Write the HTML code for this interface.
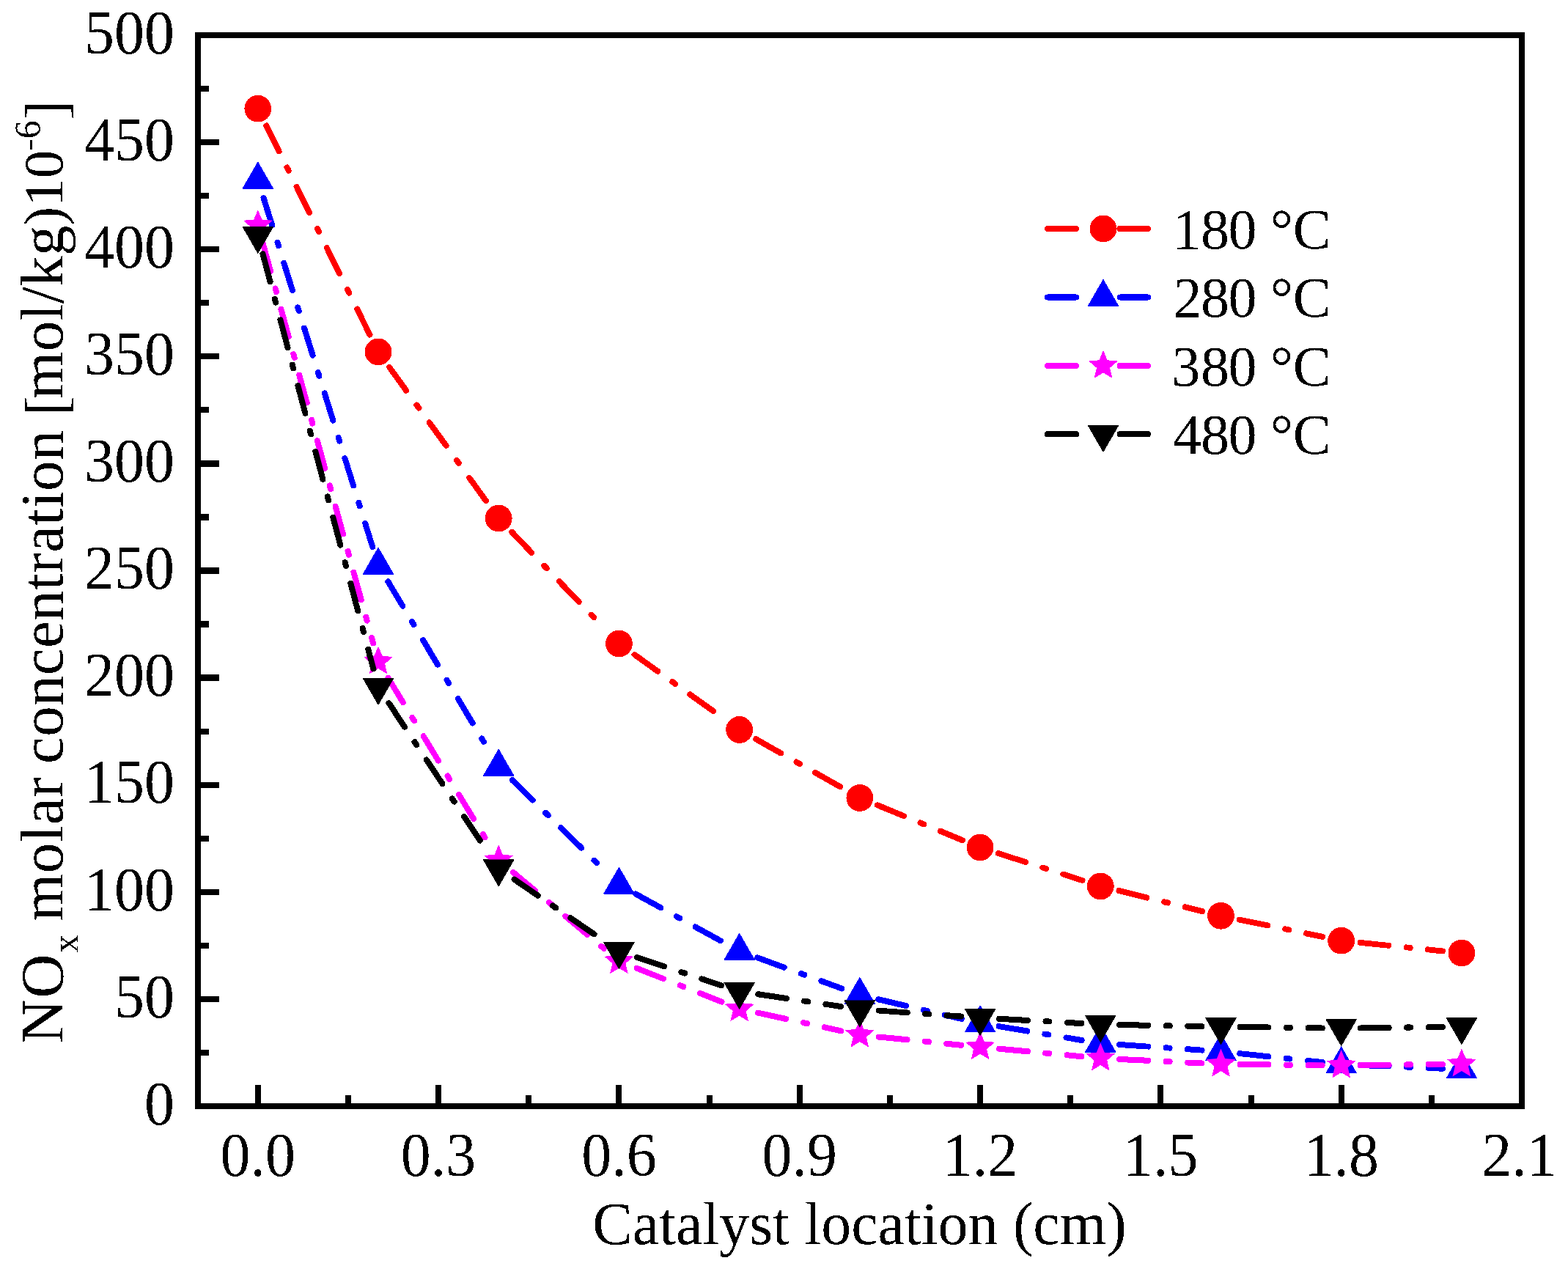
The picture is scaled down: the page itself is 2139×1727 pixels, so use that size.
<!DOCTYPE html>
<html><head><meta charset="utf-8"><title>NOx concentration vs catalyst location</title>
<style>
html,body{margin:0;padding:0;background:#fff;}
svg{display:block;}
text{font-family:"Liberation Serif","Times New Roman",serif;fill:#000;}
</style></head><body>
<svg width="2139" height="1727" viewBox="0 0 2139 1727">
<rect width="2139" height="1727" fill="#fff"/>
<defs><filter id="crisp" x="0" y="0" width="2139" height="1727" filterUnits="userSpaceOnUse" color-interpolation-filters="sRGB"><feComponentTransfer><feFuncA type="discrete" tableValues="0 1"/></feComponentTransfer></filter></defs>
<g filter="url(#crisp)">

<g fill="none" stroke-width="8" stroke-linecap="round" stroke-dasharray="39 24.5 5 24.5"><path d="M363.34 171.5L504.47 456.6M531.24 500.97L664.99 686.03M698.23 725.85L826.41 859.25M865.58 893.12L987.49 980.28M1031.26 1008.21L1150.22 1075.59M1196.88 1098.31L1313.02 1146.19M1361.81 1164.06L1476.51 1200.94M1526.51 1215.11L1640.23 1243.09M1690.94 1254.56L1804.22 1277.94M1855.55 1285.86L1968.03 1297.44" stroke="#ff0000"/></g>
<g><circle cx="351.8" cy="148.2" r="18.4" fill="#ff0000"/><circle cx="516.01" cy="479.9" r="18.4" fill="#ff0000"/><circle cx="680.22" cy="707.1" r="18.4" fill="#ff0000"/><circle cx="844.43" cy="878" r="18.4" fill="#ff0000"/><circle cx="1008.64" cy="995.4" r="18.4" fill="#ff0000"/><circle cx="1172.85" cy="1088.4" r="18.4" fill="#ff0000"/><circle cx="1337.06" cy="1156.1" r="18.4" fill="#ff0000"/><circle cx="1501.27" cy="1208.9" r="18.4" fill="#ff0000"/><circle cx="1665.48" cy="1249.3" r="18.4" fill="#ff0000"/><circle cx="1829.69" cy="1283.2" r="18.4" fill="#ff0000"/><circle cx="1993.9" cy="1300.1" r="18.4" fill="#ff0000"/></g>
<g fill="none" stroke-width="8" stroke-linecap="round" stroke-dasharray="39 24.5 5 24.5"><path d="M359.55 270.02L508.26 746.18M529.34 793.32L666.89 1023.68M698.78 1064.2L825.86 1188.8M867.21 1219.54L985.86 1284.86M1033.06 1306.31L1148.42 1348.39M1198.16 1363.25L1311.75 1389.95M1362.71 1400.16L1475.62 1418.94M1527.21 1424.97L1639.54 1432.63M1691.33 1437.14L1803.83 1449.06M1855.66 1452.91L1967.92 1457.69" stroke="#0000ff"/></g>
<g><polygon points="351.8,220.37 373.3,257.61 330.3,257.61" fill="#0000ff"/><polygon points="516.01,746.17 537.51,783.41 494.51,783.41" fill="#0000ff"/><polygon points="680.22,1021.17 701.72,1058.41 658.72,1058.41" fill="#0000ff"/><polygon points="844.43,1182.17 865.93,1219.41 822.93,1219.41" fill="#0000ff"/><polygon points="1008.64,1272.57 1030.14,1309.81 987.14,1309.81" fill="#0000ff"/><polygon points="1172.85,1332.47 1194.35,1369.71 1151.35,1369.71" fill="#0000ff"/><polygon points="1337.06,1371.07 1358.56,1408.31 1315.56,1408.31" fill="#0000ff"/><polygon points="1501.27,1398.37 1522.77,1435.61 1479.77,1435.61" fill="#0000ff"/><polygon points="1665.48,1409.57 1686.98,1446.81 1643.98,1446.81" fill="#0000ff"/><polygon points="1829.69,1426.97 1851.19,1464.21 1808.19,1464.21" fill="#0000ff"/><polygon points="1993.9,1433.97 2015.4,1471.21 1972.4,1471.21" fill="#0000ff"/></g>
<g fill="none" stroke-width="8" stroke-linecap="round" stroke-dasharray="39 24.5 5 24.5"><path d="M358.71 332.26L509.1 877.44M529.49 924.73L666.74 1151.17M700.14 1190.11L824.51 1294.49M868.6 1320.77L984.46 1366.63M1034.05 1381.71L1147.44 1406.29M1198.72 1414.4L1311.19 1425.7M1362.95 1430.71L1475.38 1441.19M1527.24 1444.88L1639.51 1450.42M1691.47 1451.97L1803.69 1453.13M1855.68 1453.1L1967.9 1451.8" stroke="#ff00ff"/></g>
<g><polygon points="351.8,286.1 357.38,299.52 371.87,300.68 360.83,310.13 364.2,324.27 351.8,316.69 339.4,324.27 342.77,310.13 331.73,300.68 346.22,299.52" fill="#ff00ff"/><polygon points="516.01,881.4 521.59,894.82 536.08,895.98 525.04,905.43 528.41,919.57 516.01,912 503.61,919.57 506.98,905.43 495.94,895.98 510.43,894.82" fill="#ff00ff"/><polygon points="680.22,1152.3 685.8,1165.72 700.29,1166.88 689.25,1176.33 692.62,1190.47 680.22,1182.89 667.82,1190.47 671.19,1176.33 660.15,1166.88 674.64,1165.72" fill="#ff00ff"/><polygon points="844.43,1290.1 850.01,1303.52 864.5,1304.68 853.46,1314.13 856.83,1328.27 844.43,1320.69 832.03,1328.27 835.4,1314.13 824.36,1304.68 838.85,1303.52" fill="#ff00ff"/><polygon points="1008.64,1355.1 1014.22,1368.52 1028.71,1369.68 1017.67,1379.13 1021.04,1393.27 1008.64,1385.69 996.24,1393.27 999.61,1379.13 988.57,1369.68 1003.06,1368.52" fill="#ff00ff"/><polygon points="1172.85,1390.7 1178.43,1404.12 1192.91,1405.28 1181.88,1414.73 1185.25,1428.87 1172.85,1421.29 1160.45,1428.87 1163.82,1414.73 1152.78,1405.28 1167.27,1404.12" fill="#ff00ff"/><polygon points="1337.06,1407.2 1342.64,1420.62 1357.12,1421.78 1346.09,1431.23 1349.46,1445.37 1337.06,1437.79 1324.65,1445.37 1328.03,1431.23 1316.99,1421.78 1331.48,1420.62" fill="#ff00ff"/><polygon points="1501.27,1422.5 1506.85,1435.92 1521.33,1437.08 1510.3,1446.53 1513.67,1460.67 1501.27,1453.09 1488.86,1460.67 1492.24,1446.53 1481.2,1437.08 1495.69,1435.92" fill="#ff00ff"/><polygon points="1665.48,1430.6 1671.06,1444.02 1685.54,1445.18 1674.51,1454.63 1677.88,1468.77 1665.48,1461.19 1653.07,1468.77 1656.45,1454.63 1645.41,1445.18 1659.9,1444.02" fill="#ff00ff"/><polygon points="1829.69,1432.3 1835.27,1445.72 1849.75,1446.88 1838.72,1456.33 1842.09,1470.47 1829.69,1462.89 1817.28,1470.47 1820.66,1456.33 1809.62,1446.88 1824.1,1445.72" fill="#ff00ff"/><polygon points="1993.9,1430.4 1999.48,1443.82 2013.96,1444.98 2002.93,1454.43 2006.3,1468.57 1993.9,1460.99 1981.49,1468.57 1984.86,1454.43 1973.83,1444.98 1988.31,1443.82" fill="#ff00ff"/></g>
<g fill="none" stroke-width="8" stroke-linecap="round" stroke-dasharray="39 24.5 5 24.5"><path d="M358.5 346.42L509.31 912.28M530.38 959.07L665.84 1163.23M701.65 1199.62L823 1282.98M869.09 1305.93L983.98 1344.27M1034.36 1356.31L1147.13 1372.99M1198.78 1378.63L1311.12 1386.57M1363.02 1389.82L1475.31 1395.98M1527.26 1397.92L1639.48 1400.18M1691.47 1401.02L1803.69 1402.38M1855.68 1402.38L1967.9 1401.02" stroke="#000000"/></g>
<g><polygon points="351.8,346.13 373.3,308.89 330.3,308.89" fill="#000000"/><polygon points="516.01,962.23 537.51,924.99 494.51,924.99" fill="#000000"/><polygon points="680.22,1209.73 701.72,1172.49 658.72,1172.49" fill="#000000"/><polygon points="844.43,1322.53 865.93,1285.29 822.93,1285.29" fill="#000000"/><polygon points="1008.64,1377.33 1030.14,1340.09 987.14,1340.09" fill="#000000"/><polygon points="1172.85,1401.63 1194.35,1364.39 1151.35,1364.39" fill="#000000"/><polygon points="1337.06,1413.23 1358.56,1375.99 1315.56,1375.99" fill="#000000"/><polygon points="1501.27,1422.23 1522.77,1384.99 1479.77,1384.99" fill="#000000"/><polygon points="1665.48,1425.53 1686.98,1388.29 1643.98,1388.29" fill="#000000"/><polygon points="1829.69,1427.53 1851.19,1390.29 1808.19,1390.29" fill="#000000"/><polygon points="1993.9,1425.53 2015.4,1388.29 1972.4,1388.29" fill="#000000"/></g>
<rect x="270" y="48" width="1806" height="1461" fill="none" stroke="#000" stroke-width="8"/>
<path d="M351.8 1509V1480M598.11 1509V1480M844.43 1509V1480M1090.74 1509V1480M1337.06 1509V1480M1583.37 1509V1480M1829.69 1509V1480M2076 1509V1480M474.96 1509V1494M721.27 1509V1494M967.59 1509V1494M1213.9 1509V1494M1460.21 1509V1494M1706.53 1509V1494M1952.84 1509V1494M270 1362.9H299M270 1216.8H299M270 1070.7H299M270 924.6H299M270 778.5H299M270 632.4H299M270 486.3H299M270 340.2H299M270 194.1H299M270 1435.95H285M270 1289.85H285M270 1143.75H285M270 997.65H285M270 851.55H285M270 705.45H285M270 559.35H285M270 413.25H285M270 267.15H285M270 121.05H285" stroke="#000" stroke-width="8" fill="none"/>
<text x="351.8" y="1604.5" text-anchor="middle" font-size="82" transform="translate(0 1604.5) scale(1 1.04) translate(0 -1604.5)">0.0</text><text x="598.11" y="1604.5" text-anchor="middle" font-size="82" transform="translate(0 1604.5) scale(1 1.04) translate(0 -1604.5)">0.3</text><text x="844.43" y="1604.5" text-anchor="middle" font-size="82" transform="translate(0 1604.5) scale(1 1.04) translate(0 -1604.5)">0.6</text><text x="1090.74" y="1604.5" text-anchor="middle" font-size="82" transform="translate(0 1604.5) scale(1 1.04) translate(0 -1604.5)">0.9</text><text x="1337.06" y="1604.5" text-anchor="middle" font-size="82" transform="translate(0 1604.5) scale(1 1.04) translate(0 -1604.5)">1.2</text><text x="1583.37" y="1604.5" text-anchor="middle" font-size="82" transform="translate(0 1604.5) scale(1 1.04) translate(0 -1604.5)">1.5</text><text x="1829.69" y="1604.5" text-anchor="middle" font-size="82" transform="translate(0 1604.5) scale(1 1.04) translate(0 -1604.5)">1.8</text><text x="2072.5" y="1604.5" text-anchor="middle" font-size="82" transform="translate(0 1604.5) scale(1 1.04) translate(0 -1604.5)">2.1</text><text x="238" y="1533.8" text-anchor="end" font-size="82" transform="translate(0 1533.8) scale(1 1.025) translate(0 -1533.8)">0</text><text x="238" y="1387.7" text-anchor="end" font-size="82" transform="translate(0 1387.7) scale(1 1.025) translate(0 -1387.7)">50</text><text x="238" y="1241.6" text-anchor="end" font-size="82" transform="translate(0 1241.6) scale(1 1.025) translate(0 -1241.6)">100</text><text x="238" y="1095.5" text-anchor="end" font-size="82" transform="translate(0 1095.5) scale(1 1.025) translate(0 -1095.5)">150</text><text x="238" y="949.4" text-anchor="end" font-size="82" transform="translate(0 949.4) scale(1 1.025) translate(0 -949.4)">200</text><text x="238" y="803.3" text-anchor="end" font-size="82" transform="translate(0 803.3) scale(1 1.025) translate(0 -803.3)">250</text><text x="238" y="657.2" text-anchor="end" font-size="82" transform="translate(0 657.2) scale(1 1.025) translate(0 -657.2)">300</text><text x="238" y="511.1" text-anchor="end" font-size="82" transform="translate(0 511.1) scale(1 1.025) translate(0 -511.1)">350</text><text x="238" y="365" text-anchor="end" font-size="82" transform="translate(0 365) scale(1 1.025) translate(0 -365)">400</text><text x="238" y="218.9" text-anchor="end" font-size="82" transform="translate(0 218.9) scale(1 1.025) translate(0 -218.9)">450</text><text x="238" y="72.8" text-anchor="end" font-size="82" transform="translate(0 72.8) scale(1 1.025) translate(0 -72.8)">500</text>
<text x="1172.5" y="1696.6" text-anchor="middle" font-size="82">Catalyst location (cm)</text>
<text transform="translate(85.4 1423) rotate(-90)" font-size="83"><tspan x="-0.3" letter-spacing="1.8">NO</tspan><tspan font-size="50" dy="21">x</tspan><tspan x="145" dy="-21" letter-spacing="0.7"> molar</tspan><tspan x="360" letter-spacing="0.3"> concentration</tspan><tspan x="836.1" font-size="80" dy="4.4"> [</tspan><tspan x="878.8" dy="-4.4" letter-spacing="0.3">mol/kg</tspan><tspan x="1115.5" font-size="77">)10</tspan><tspan x="1217.05" font-size="50" dy="-31">-6</tspan><tspan x="1259.4" font-size="80" dy="35.4">]</tspan></text>
<path d="M1428.9 312H1468.1M1527.5 312H1566" stroke="#ff0000" stroke-width="8" stroke-linecap="round" fill="none"/><circle cx="1505" cy="312" r="18.4" fill="#ff0000"/><text x="1599.47 1638.1 1675.4 1714.4 1732.79 1763.79" y="338.8" font-size="78">180 °C</text><path d="M1428.9 405.45H1468.1M1527.5 405.45H1566" stroke="#0000ff" stroke-width="8" stroke-linecap="round" fill="none"/><polygon points="1505,380.62 1526.5,417.86 1483.5,417.86" fill="#0000ff"/><text x="1600.49 1638.1 1675.4 1714.4 1732.79 1763.79" y="432.23" font-size="78">280 °C</text><path d="M1428.9 498.9H1468.1M1527.5 498.9H1566" stroke="#ff00ff" stroke-width="8" stroke-linecap="round" fill="none"/><polygon points="1505,477.8 1510.58,491.22 1525.07,492.38 1514.03,501.83 1517.4,515.97 1505,508.39 1492.6,515.97 1495.97,501.83 1484.93,492.38 1499.42,491.22" fill="#ff00ff"/><text x="1598.26 1638.1 1675.4 1714.4 1732.79 1763.79" y="525.66" font-size="78">380 °C</text><path d="M1428.9 592.35H1468.1M1527.5 592.35H1566" stroke="#000000" stroke-width="8" stroke-linecap="round" fill="none"/><polygon points="1505,617.18 1526.5,579.94 1483.5,579.94" fill="#000000"/><text x="1599.94 1638.1 1675.4 1714.4 1732.79 1763.79" y="619.09" font-size="78">480 °C</text>
</g></svg>
</body></html>
